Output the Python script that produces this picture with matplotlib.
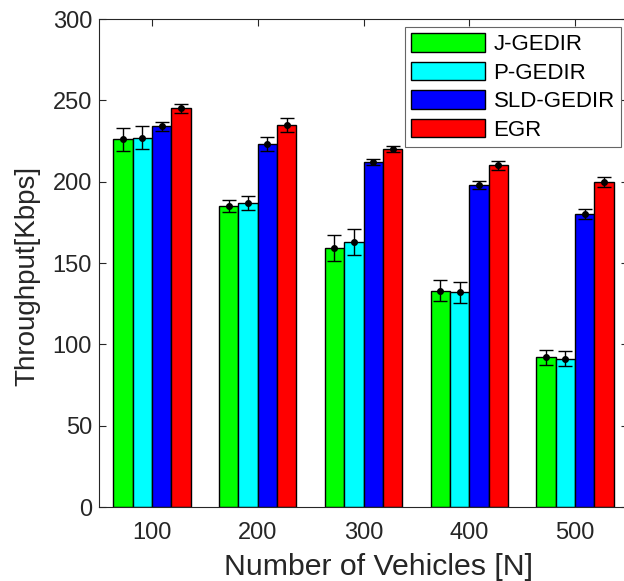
import matplotlib
matplotlib.use("Agg")
import matplotlib.pyplot as plt
import numpy as np

plt.rcParams['font.family'] = ['Liberation Sans', 'DejaVu Sans']

categories = ['100', '200', '300', '400', '500']
series = ['J-GEDIR', 'P-GEDIR', 'SLD-GEDIR', 'EGR']
j_gedir = [226, 185, 159, 133, 92]
p_gedir = [227, 187, 163, 132, 91]
sld_gedir = [234, 223, 212, 198, 180]
egr = [245, 235, 220, 210, 200]
j_err = [7, 3.8, 8, 6.3, 4.4]
p_err = [7, 4.2, 8, 6.6, 4.6]
sld_err = [2.6, 4.2, 2, 2.7, 3]
egr_err = [2.7, 4.3, 2, 2.8, 3]
colors = ['#00ff00', '#00ffff', '#0000ff', '#ff0000']

values = [j_gedir, p_gedir, sld_gedir, egr]
errors = [j_err, p_err, sld_err, egr_err]

text_col = '#262626'
fig = plt.figure(figsize=(6.24, 5.81), dpi=100)
ax = fig.add_axes([99/624, 1-507/581, (628-99)/624, (507-19)/581])

x = np.arange(1, len(categories)+1)
w = 0.183
for i, (vals, errs, c, name) in enumerate(zip(values, errors, colors, series)):
    pos = x + (i - 1.5) * w
    ax.bar(pos, vals, width=w, color=c, edgecolor='black', linewidth=1.0, label=name, zorder=2)
    ax.errorbar(pos, vals, yerr=errs, fmt='o', color='black', ms=4, capsize=5,
                elinewidth=1.0, capthick=1.0, zorder=3)

ax.set_xlim(0.5, 5.5)
ax.set_ylim(0, 300)
ax.set_xticks(x)
ax.set_xticklabels(categories)
ax.set_yticks(np.arange(0, 301, 50))
ax.tick_params(direction='in', top=True, right=True, labelsize=17, colors=text_col,
               length=5, width=0.8)
ax.tick_params(axis='x', pad=11)
ax.tick_params(axis='y', pad=5)
for s in ax.spines.values():
    s.set_color(text_col)
    s.set_linewidth(0.8)
ax.set_xlabel('Number of Vehicles [N]', fontsize=21.8, color=text_col, labelpad=6)
ax.xaxis.label.set_x((379-99)/529)
ax.set_ylabel('Throughput[Kbps]', fontsize=20, color=text_col, labelpad=9)
ax.yaxis.label.set_y((507-275.5)/488)

leg = ax.legend(loc='upper right', bbox_to_anchor=(621/624, 1-27/581),
                bbox_transform=fig.transFigure, fontsize=16, frameon=True, fancybox=False,
                edgecolor='#666666', framealpha=1, borderaxespad=0, handlelength=3.3,
                handleheight=0.9, labelspacing=0.3, borderpad=0.28, handletextpad=0.4)
leg.get_frame().set_linewidth(0.8)
for t in leg.get_texts():
    t.set_color('black')

fig.savefig('out.png', dpi=100)
